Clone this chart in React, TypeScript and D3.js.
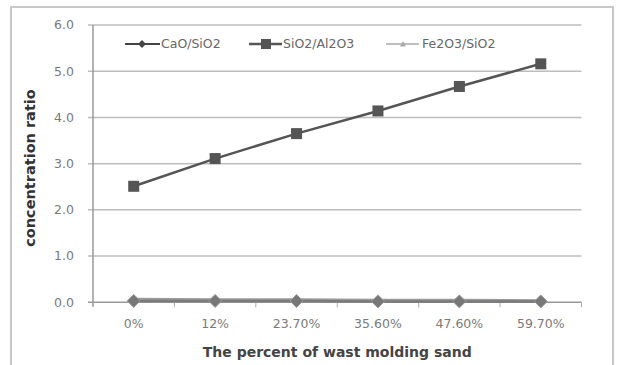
import React from "react";
import * as d3 from "d3";

const categories = ["0%", "12%", "23.70%", "35.60%", "47.60%", "59.70%"];
const caoSio2 = [0.03, 0.03, 0.03, 0.02, 0.02, 0.02];
const sio2Al2o3 = [2.51, 3.11, 3.65, 4.14, 4.67, 5.16];
const fe2o3Sio2 = [0.06, 0.05, 0.05, 0.04, 0.04, 0.03];
const yTicks = [0, 1, 2, 3, 4, 5, 6];
const seriesNames = ["CaO/SiO2", "SiO2/Al2O3", "Fe2O3/SiO2"];

const W = 618;
const H = 365;
const left = 93;
const right = 581.5;
const top = 25;
const bottom = 302.3;
const font = "'DejaVu Sans', sans-serif";

export default function App() {
  const x = d3.scaleBand<string>().domain(categories).range([left, right]);
  const cx = (c: string) => (x(c) as number) + x.bandwidth() / 2;
  const y = d3.scaleLinear().domain([0, 6]).range([bottom, top]);
  const lineGen = (vals: number[]) =>
    d3.line<number>().x((_, i) => cx(categories[i])).y((v) => y(v))(vals) || "";

  const diamond = (px: number, py: number, r: number) =>
    `M${px},${py - r}L${px + r},${py}L${px},${py + r}L${px - r},${py}Z`;
  const tri = (px: number, py: number, r: number) =>
    `M${px},${py - r}L${px + r},${py + r * 0.8}L${px - r},${py + r * 0.8}Z`;

  const boundaries = d3.range(categories.length + 1).map((i) => left + i * x.step());

  return (
    <svg width={W} height={H} style={{ position: "absolute", left: 0, top: 0 }}>
      <rect x={0} y={0} width={W} height={H} fill="#fff" />
      <rect x={11} y={7} width={602} height={370} fill="#fff" stroke="#c8c8c8" strokeWidth={2} />
      {/* gridlines */}
      {yTicks.map((t) => (
        <line key={t} x1={left - 5} x2={right} y1={y(t)} y2={y(t)} stroke={t === 0 ? "#999" : "#bdbdbd"} strokeWidth={1.5} />
      ))}
      {/* y axis */}
      <line x1={left} x2={left} y1={top} y2={bottom + 4} stroke="#999" strokeWidth={1.5} />
      {boundaries.map((b, i) => (
        <line key={i} x1={b} x2={b} y1={bottom} y2={bottom + 5} stroke="#aaa" strokeWidth={1} />
      ))}
      {yTicks.map((t) => (
        <text key={t} x={74} y={y(t)} dy="0.35em" textAnchor="end" fontFamily={font} fontSize={12.5} fill="#7a7a7a">
          {t.toFixed(1)}
        </text>
      ))}
      {categories.map((c) => (
        <text key={c} x={cx(c)} y={324} dy="0.35em" textAnchor="middle" fontFamily={font} fontSize={12.5} fill="#7a7a7a">
          {c}
        </text>
      ))}
      <text x={(left + right) / 2} y={352} dy="0.35em" textAnchor="middle" fontFamily={font} fontSize={14} fontWeight="bold" fill="#444">
        The percent of wast molding sand
      </text>
      <text transform={`translate(30,168) rotate(-90)`} dy="0.35em" textAnchor="middle" fontFamily={font} fontSize={14.5} fontWeight="bold" fill="#333">
        concentration ratio
      </text>

      {/* Fe2O3/SiO2 */}
      <path d={lineGen(fe2o3Sio2)} fill="none" stroke="#9a9a9a" strokeWidth={3.5} />
      {/* CaO/SiO2 */}
      <path d={lineGen(caoSio2)} fill="none" stroke="#7a7a7a" strokeWidth={2.5} />
      {fe2o3Sio2.map((v, i) => (
        <path key={"f" + i} d={tri(cx(categories[i]), y(v), 4)} fill="#aaa" />
      ))}
      {caoSio2.map((v, i) => (
        <path key={"c" + i} d={diamond(cx(categories[i]), y(v), 6.5)} fill="#777" stroke="#9a9a9a" strokeWidth={1} />
      ))}
      {/* SiO2/Al2O3 */}
      <path d={lineGen(sio2Al2o3)} fill="none" stroke="#555" strokeWidth={2.5} />
      {sio2Al2o3.map((v, i) => (
        <rect key={"s" + i} x={cx(categories[i]) - 5.5} y={y(v) - 5.5} width={11} height={11} fill="#555" />
      ))}

      {/* legend */}
      <g fontFamily={font} fontSize={12.5} fill="#666">
        <line x1={125} x2={160} y1={44} y2={44} stroke="#444" strokeWidth={2} />
        <path d={diamond(142, 44, 4)} fill="#444" />
        <text x={161} y={44} dy="0.35em">{seriesNames[0]}</text>
        <line x1={249} x2={282} y1={44} y2={44} stroke="#555" strokeWidth={2.5} />
        <rect x={261} y={39} width={10} height={10} fill="#555" />
        <text x={283} y={44} dy="0.35em">{seriesNames[1]}</text>
        <line x1={386} x2={419} y1={44} y2={44} stroke="#aaa" strokeWidth={1.5} />
        <path d={tri(403, 44, 3)} fill="#aaa" />
        <text x={422} y={44} dy="0.35em">{seriesNames[2]}</text>
      </g>
    </svg>
  );
}
